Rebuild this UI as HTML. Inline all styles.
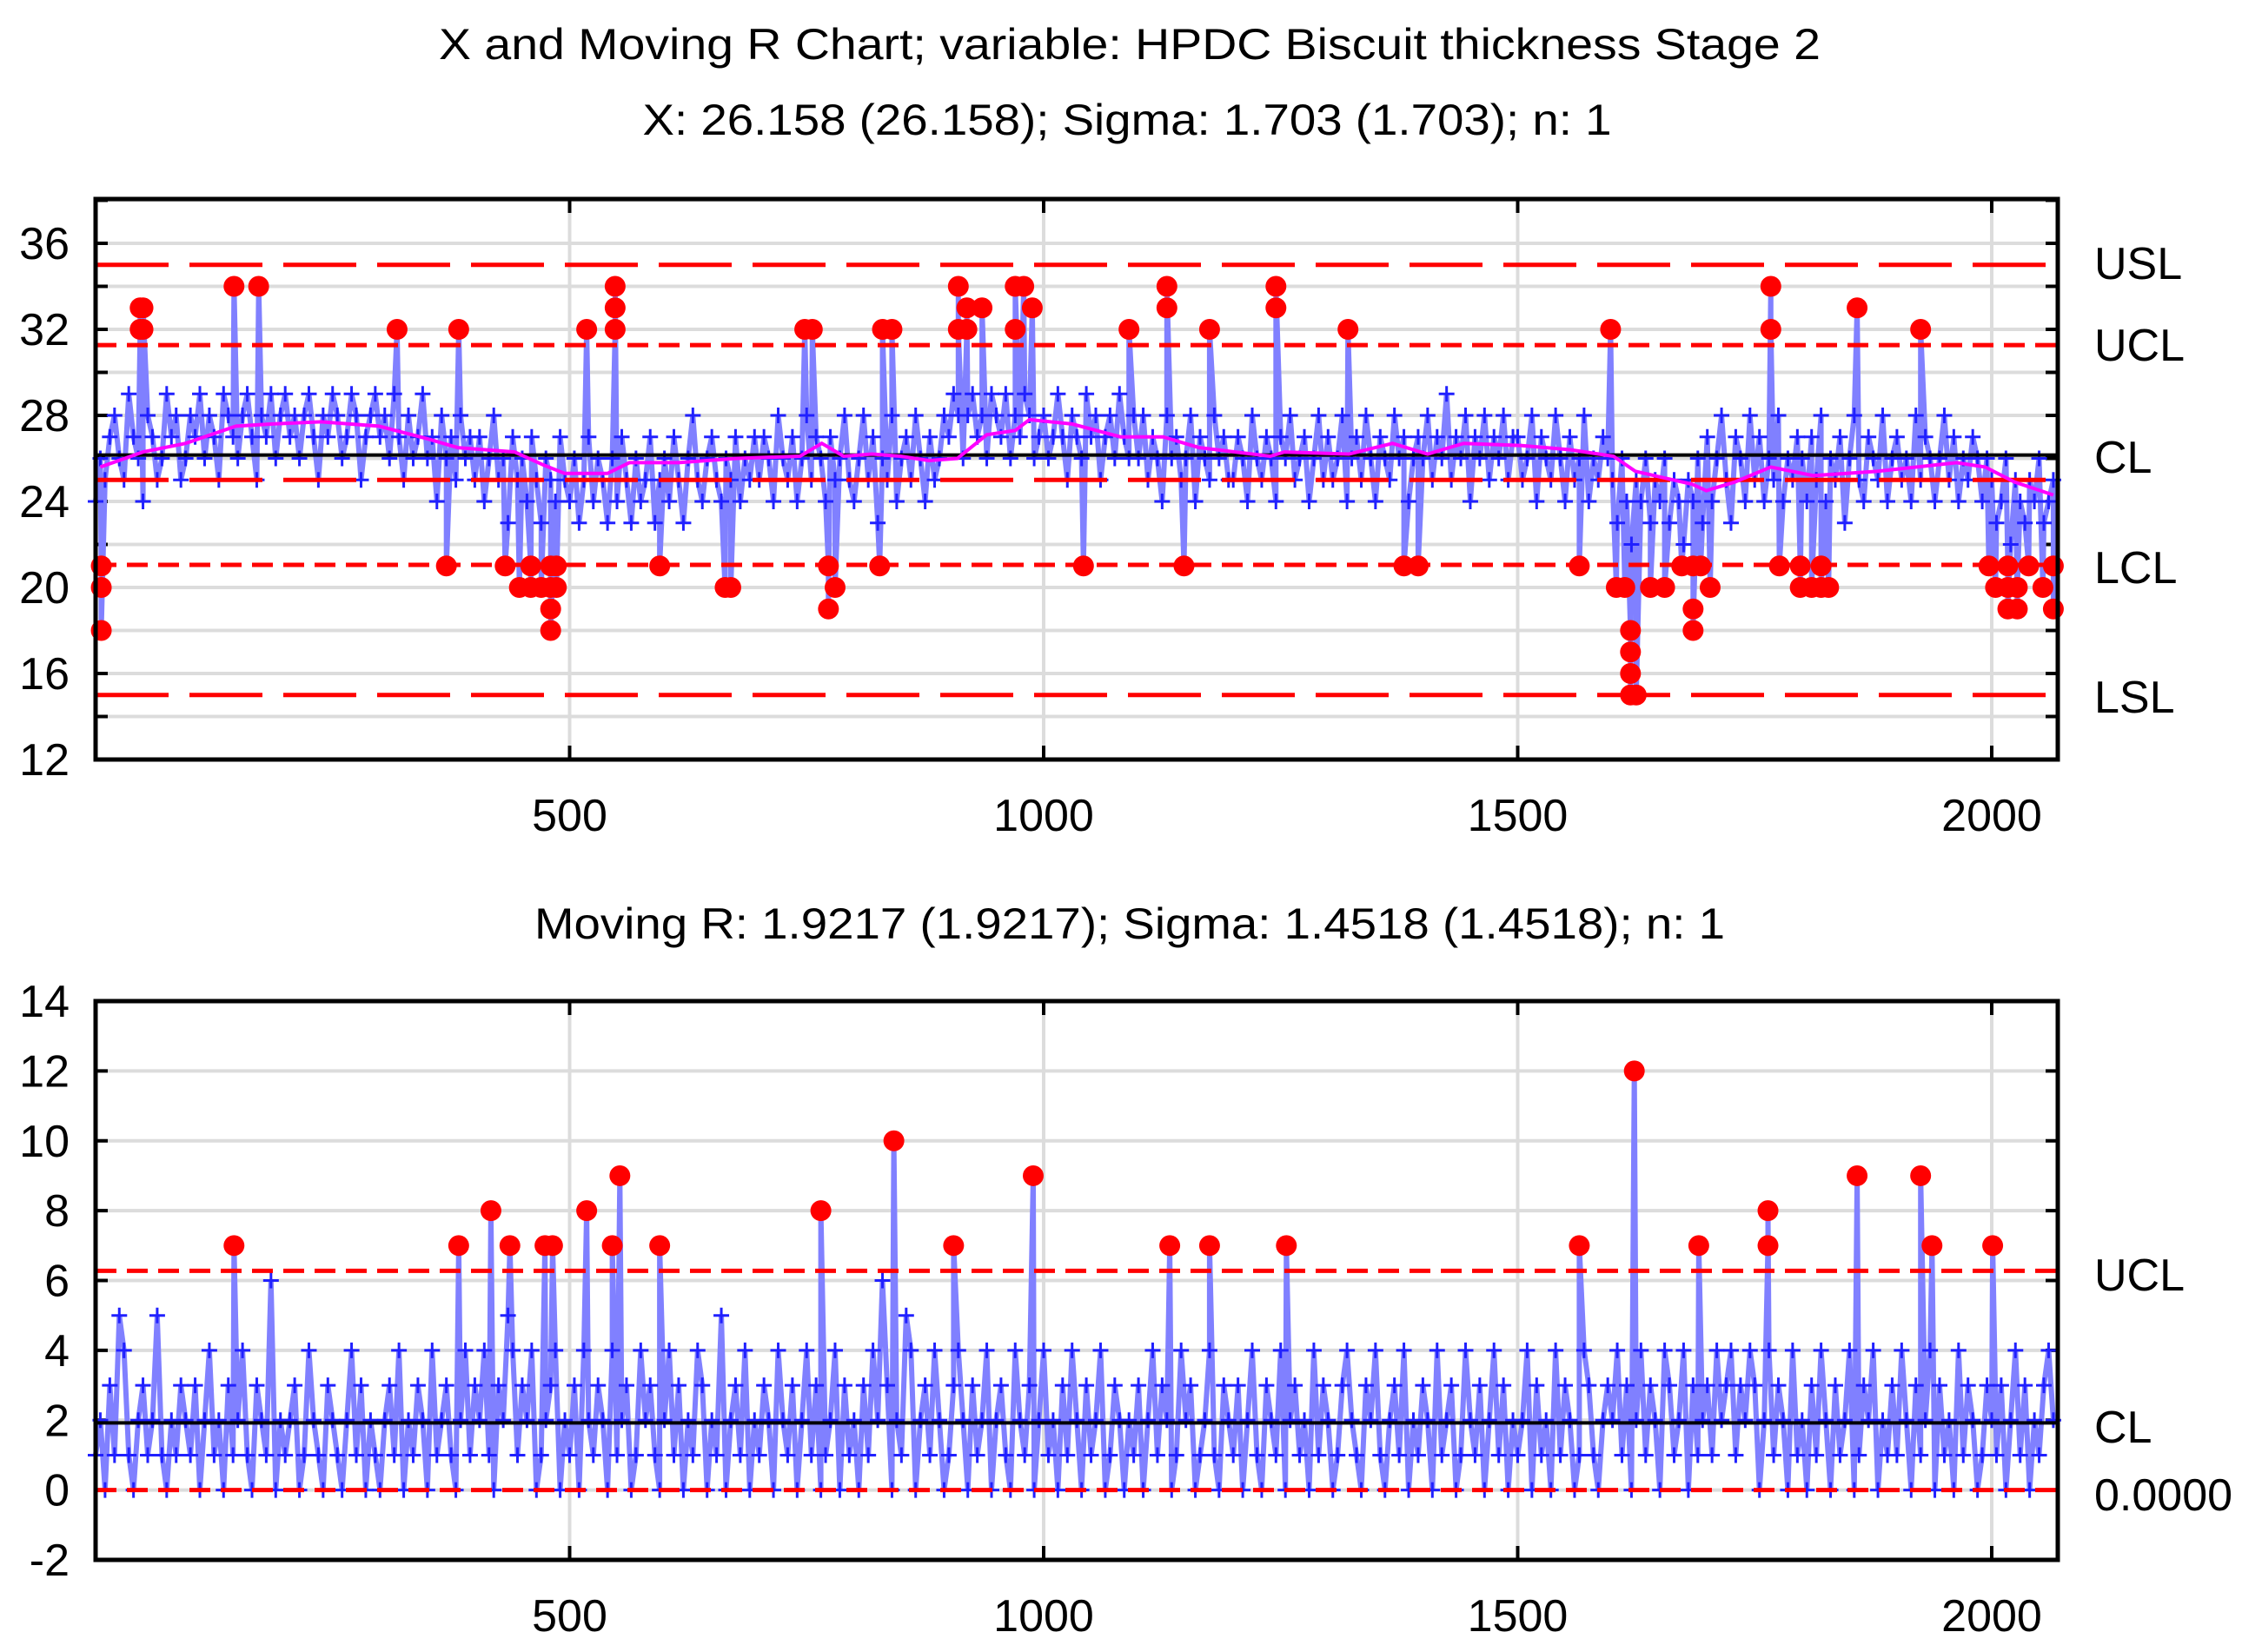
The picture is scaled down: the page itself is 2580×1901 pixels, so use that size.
<!DOCTYPE html>
<html><head><meta charset="utf-8"><style>
html,body{margin:0;padding:0;background:#fff}
svg{display:block}
text{font-family:"Liberation Sans",Arial,sans-serif;fill:#000}
</style></head><body>
<svg id="chart" width="2580" height="1901" viewBox="0 0 2580 1901" xmlns="http://www.w3.org/2000/svg">
<text x="1300" y="68" font-size="50" text-anchor="middle" textLength="1590" lengthAdjust="spacingAndGlyphs">X and Moving R Chart; variable:  HPDC Biscuit thickness Stage 2</text>
<text x="1297" y="155" font-size="50" text-anchor="middle" textLength="1115" lengthAdjust="spacingAndGlyphs">X: 26.158 (26.158); Sigma: 1.703 (1.703); n: 1</text>
<text x="1300" y="1080" font-size="50" text-anchor="middle" textLength="1370" lengthAdjust="spacingAndGlyphs">Moving R: 1.9217 (1.9217); Sigma: 1.4518 (1.4518); n: 1</text>
<g id="top"></g>
<g id="bot"></g>
</svg>
<script>
// ---------- data ----------
const sampleStep = 5;
const xValues = [
24,26,25,27,28,26,25,29,27,26,24,28,27,25,26,29,27,28,25,26,
28,27,29,26,28,27,25,29,28,27,26,28,29,27,25,28,27,29,26,28,
29,27,28,26,28,29,27,25,28,27,29,28,26,27,29,28,25,27,28,29,
27,28,26,29,27,25,28,26,27,29,26,27,24,28,26,27,25,28,26,27,
25,27,24,26,28,25,26,23,27,25,26,24,27,25,23,26,25,24,27,25,
24,26,23,25,27,24,26,25,23,26,24,27,25,23,26,24,25,27,23,25,
26,24,27,25,23,26,28,25,24,26,27,25,24,26,25,27,24,26,25,27,
25,27,26,24,28,26,25,27,24,26,28,25,27,26,24,27,25,26,28,25,
24,26,28,25,27,23,26,25,28,24,26,27,25,28,26,24,27,25,26,28,
27,29,28,26,28,29,27,28,26,29,28,27,29,26,28,27,29,28,26,27,
28,26,27,29,27,25,28,27,26,29,27,28,25,27,28,26,29,27,26,28,
26,28,25,27,26,24,28,26,27,25,26,28,24,27,26,25,28,26,27,25,
25,27,26,24,28,26,25,27,26,24,27,26,28,25,26,27,24,26,28,25,
27,25,26,28,24,26,27,25,28,26,24,27,26,25,28,26,27,24,26,27,
26,28,25,27,26,29,25,27,26,28,24,27,26,28,25,27,26,28,25,27,
27,25,26,28,24,27,26,25,28,26,24,27,25,26,28,24,26,25,27,26,
25,23,26,24,22,25,24,26,23,25,24,26,23,25,24,22,25,24,26,23,
27,24,26,28,25,23,27,26,24,28,25,27,24,26,25,28,24,26,25,27,
26,24,27,25,28,24,26,25,27,23,26,28,25,24,27,26,25,28,24,26,
27,25,26,24,28,25,27,26,24,26,28,25,27,24,26,25,27,26,24,26,
25,23,24,26,22,25,24,23,25,24,26,23,24,25];
const xOutIdx = [47,47,50,50,146,172,318,383,518,548,548,548,748,756,830,840,910,910,919,919,935,970,970,979,988,1090,1130,1130,1175,1245,1245,1321,1598,1767,1767,1858,1925,
6,6,6,370,432,447,459,459,470,480,480,480,480,486,486,595,664,670,773,773,780,827,1042,1148,1380,1395,1565,1604,1613,1619,1619,1619,1619,1625,1640,1655,1673,1685,1685,1685,1693,1703,1776,1798,1798,1810,1820,1820,1828,1997,2004,2017,2017,2017,2027,2027,2039,2054,2065,2065];
const xOutVal = [32,33,32,33,34,34,32,32,32,32,33,34,32,32,32,32,34,32,32,33,33,32,34,34,33,32,33,34,32,33,34,32,32,34,32,33,32,
21,20,18,21,21,20,21,20,20,21,20,19,18,21,20,21,20,20,21,19,20,21,21,21,21,21,21,20,20,18,17,16,15,15,20,20,21,21,19,18,21,20,21,21,20,20,21,20,20,21,20,21,20,19,19,20,21,20,21,19];
const maIdx = [5,50,95,148,186,238,299,351,382,442,472,495,540,563,615,676,743,766,789,819,849,879,909,940,970,985,1030,1081,1126,1164,1239,1254,1322,1368,1405,1443,1503,1556,1601,1624,1654,1684,1699,1729,1767,1812,1880,1963,1993,2024,2065];
const maVal = [25.6,26.3,26.7,27.5,27.6,27.7,27.5,26.9,26.5,26.3,25.7,25.3,25.3,25.8,25.8,26.0,26.1,26.7,26.1,26.2,26.1,25.9,26.0,27.1,27.3,27.8,27.6,27.0,27.0,26.5,26.1,26.3,26.2,26.7,26.2,26.7,26.6,26.4,26.1,25.4,25.1,24.8,24.5,24.9,25.6,25.2,25.4,25.8,25.6,24.9,24.3];
const xYTicks = [12,16,20,24,28,32,36];
const xTicks = [500,1000,1500,2000];
const xLimits = {USL:35, UCL:31.267, CL:26.158, LCL:21.049, LSL:15, TGT:25};

const mrValues = [
1,2,0,3,1,5,4,1,0,2,3,1,2,5,1,0,2,1,3,2,
1,3,0,2,4,1,2,0,3,1,2,4,1,0,3,2,1,6,0,2,
1,2,3,0,1,4,2,1,0,3,2,1,0,2,4,1,3,0,2,1,
0,2,3,1,4,0,2,1,3,2,0,4,1,2,3,1,0,2,4,1,
3,2,4,1,0,3,2,5,4,1,3,2,4,0,1,2,3,4,0,2,
1,3,0,4,2,1,3,2,0,4,1,2,3,0,1,4,2,3,1,0,
2,4,1,3,0,2,1,4,3,0,2,1,5,0,2,3,1,4,0,2,
1,3,2,0,4,2,1,3,0,2,4,1,3,0,1,2,4,0,3,1,
2,0,3,1,4,2,6,3,0,2,1,5,4,0,2,3,1,4,2,0,
1,3,4,2,0,3,1,2,4,0,2,3,1,0,4,2,1,3,0,2,
4,1,2,0,3,1,4,2,0,3,1,2,4,0,1,3,2,0,2,1,
3,0,2,4,1,3,2,0,1,4,2,3,0,1,2,4,1,0,3,2,
1,3,0,2,4,1,0,3,2,1,4,0,2,3,1,2,0,4,1,3,
2,0,1,3,4,2,1,0,3,2,4,1,0,2,3,1,4,0,2,1,
3,2,0,4,1,2,3,0,1,4,2,1,3,0,2,4,1,3,0,2,
1,2,4,0,3,1,2,0,4,1,3,2,0,1,4,3,1,0,2,3,
2,4,1,3,0,2,4,1,3,2,0,4,3,1,2,4,0,3,1,2,
3,1,4,2,3,4,1,3,2,4,3,0,2,4,1,3,2,0,4,1,
2,0,3,1,4,2,0,3,1,2,4,0,1,3,2,4,0,2,1,3,
1,4,2,0,3,1,2,4,0,3,1,2,0,4,1,3,2,0,1,3,
2,1,3,0,2,4,1,3,0,2,1,3,4,2];
const mrOutIdx = [146,383,417,437,474,482,518,545,553,595,765,842,905,989,1133,1175,1256,1565,1623,1691,1764,1764,1858,1925,1937,2001];
const mrOutVal = [7,7,8,7,7,7,8,7,9,7,8,10,7,9,7,7,7,7,12,7,7,8,9,9,7,7];
const mrYTicks = [-2,0,2,4,6,8,10,12,14];
const mrLimits = {UCL:6.278, CL:1.9217, LCL:0};

// ---------- drawing ----------
const NS='http://www.w3.org/2000/svg';
function mk(tag, attrs, parent){const e=document.createElementNS(NS,tag);for(const k in attrs)e.setAttribute(k,attrs[k]);parent.appendChild(e);return e;}
const L=110, R=2368, XMAX=(R-L)/1.091;
function sx(v){return L+(v/XMAX)*(R-L);}

function drawPanel(g, top, bottom, ymin, ymax, yTicks, gridStep, series, outIdx, outVal, limits, labels, ma){
  const sy=v=>bottom-(v-ymin)/(ymax-ymin)*(bottom-top);
  for(let v=ymin; v<=ymax; v+=gridStep){
    const gl=mk('line',{x1:L,x2:R,y1:sy(v),y2:sy(v),stroke:'#dcdcdc','stroke-width':4},g);
    
    
    const t1=mk('line',{x1:L,x2:L+14,y1:sy(v),y2:sy(v),stroke:'#000','stroke-width':4},g);
    
    
    const t2=mk('line',{x1:R-14,x2:R,y1:sy(v),y2:sy(v),stroke:'#000','stroke-width':4},g);
    
    
  }
  xTicks.forEach(t=>{
    const vl=mk('line',{x1:sx(t),x2:sx(t),y1:top,y2:bottom,stroke:'#dcdcdc','stroke-width':4},g);
    
    
    const tk=mk('line',{x1:sx(t),x2:sx(t),y1:top,y2:top+16,stroke:'#000','stroke-width':4},g);
    
    
    const tk2=mk('line',{x1:sx(t),x2:sx(t),y1:bottom-16,y2:bottom,stroke:'#000','stroke-width':4},g);
    
    
    const tl=mk('text',{x:sx(t),y:bottom+82,'font-size':52,'text-anchor':'middle'},g);
    tl.textContent=t;
    
    
  });
  yTicks.forEach(t=>{
    const tl=mk('text',{x:80,y:sy(t)+18,'font-size':52,'text-anchor':'end'},g);
    tl.textContent=t;
    
    
  });
  const pts=series.map((v,i)=>[i*sampleStep,v,false]);
  outIdx.forEach((x,i)=>pts.push([x,outVal[i],true]));
  pts.sort((a,b)=>a[0]-b[0]);
  let d='';
  pts.forEach((p,i)=>{d+=(i?'L':'M')+sx(p[0]).toFixed(1)+' '+sy(p[1]).toFixed(1);});
  const ln=mk('path',{d:d,fill:'none',stroke:'#8080ff','stroke-width':6,'stroke-linejoin':'bevel'},g);
  
  
  pts.forEach(p=>{
    if(p[2]) return;
    const x=sx(p[0]), y=sy(p[1]);
    const pm=mk('path',{d:`M${x-9} ${y}H${x+9}M${x} ${y-9}V${y+9}`,stroke:'#2020ff','stroke-width':3,fill:'none'},g);
    
    
  });
  labels.forEach(lb=>{
    const y=sy(limits[lb.key]);
    const ll=mk('line',{x1:L,x2:R,y1:y,y2:y,stroke:lb.color,'stroke-width':lb.w,'stroke-dasharray':lb.dash||'none'},g);
    
    
    if(lb.text){
      const tx=mk('text',{x:2410,y:(lb.ty||y)+18,'font-size':52},g);
      tx.textContent=lb.text;
      
      
    }
  });
  if(ma){
    let md='';
    ma[0].forEach((x,i)=>{md+=(i?'L':'M')+sx(x).toFixed(1)+' '+sy(ma[1][i]).toFixed(1);});
    const mp=mk('path',{d:md,fill:'none',stroke:'#ff00ff','stroke-width':4},g);
    
    
  }
  pts.forEach(p=>{
    if(!p[2]) return;
    const c=mk('ellipse',{cx:sx(p[0]),cy:sy(p[1]),rx:12,ry:12,fill:'#ff0000'},g);
    
    
  });
  const fr=mk('rect',{x:L,y:top,width:R-L,height:bottom-top,fill:'none',stroke:'#000','stroke-width':5},g);
  
  
}

drawPanel(document.getElementById('top'),229,874,12,38.06,xYTicks,2,xValues,xOutIdx,xOutVal,xLimits,[
 {key:'USL',text:'USL',color:'#ff0000',w:5,dash:'84 24',ty:303},
 {key:'UCL',text:'UCL',color:'#ff0000',w:5,dash:'24 12',ty:397},
 {key:'TGT',text:'',color:'#ff0000',w:5,dash:'84 24'},
 {key:'CL',text:'CL',color:'#000',w:4,ty:526},
 {key:'LCL',text:'LCL',color:'#ff0000',w:5,dash:'24 12',ty:653},
 {key:'LSL',text:'LSL',color:'#ff0000',w:5,dash:'84 24',ty:802}
],[maIdx,maVal]);

drawPanel(document.getElementById('bot'),1152,1795,-2,14,mrYTicks,2,mrValues,mrOutIdx,mrOutVal,mrLimits,[
 {key:'UCL',text:'UCL',color:'#ff0000',w:5,dash:'24 12',ty:1467},
 {key:'CL',text:'CL',color:'#000',w:4,ty:1642},
 {key:'LCL',text:'0.0000',color:'#ff0000',w:5,dash:'24 12',ty:1720}
],null);
</script>
</body></html>
